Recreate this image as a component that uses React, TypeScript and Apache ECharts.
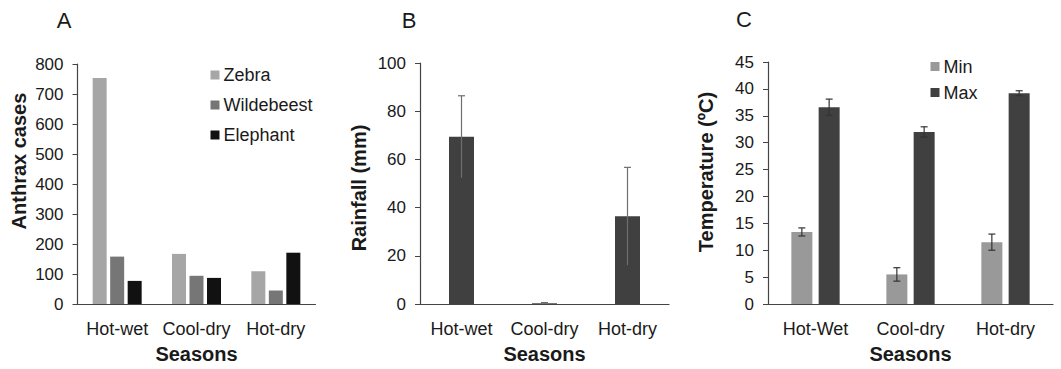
import React, { useEffect, useRef } from "react";
import * as echarts from "echarts";

// ---- Data ----
const seasonsA = ["Hot-wet", "Cool-dry", "Hot-dry"];
const zebra = [753, 167, 109];
const wildebeest = [158, 94, 45];
const elephant = [77, 87, 171];

const seasonsB = ["Hot-wet", "Cool-dry", "Hot-dry"];
const rainfall = [69.4, 0.3, 36.4];
const rainfallErr = [17, 0.3, 20.3];

const seasonsC = ["Hot-Wet", "Cool-dry", "Hot-dry"];
const tempMin = [13.4, 5.5, 11.5];
const tempMinErr = [0.75, 1.25, 1.5];
const tempMax = [36.6, 32.0, 39.2];
const tempMaxErr = [1.5, 0.95, 0.45];

const ticksA = { min: 0, max: 800, interval: 100 };
const ticksB = { min: 0, max: 100, interval: 20 };
const ticksC = { min: 0, max: 45, interval: 5 };

const FONT = "'Liberation Sans', Arial, sans-serif";
const AXIS_COLOR = "#444";
const TEXT_COLOR = "#1a1a1a";

function errSeries(
  name: string,
  axisIdx: number,
  values: number[],
  errs: number[],
  offset: number,
  capHalf: number,
  color: string,
  bottomCap: boolean
) {
  return {
    type: "custom",
    name,
    xAxisIndex: axisIdx,
    yAxisIndex: axisIdx,
    z: 10,
    silent: true,
    data: values.map((v, i) => [i, v - errs[i], v + errs[i]]),
    renderItem: (_params: any, api: any) => {
      const lo = api.coord([api.value(0), api.value(1)]);
      const hi = api.coord([api.value(0), api.value(2)]);
      const x = lo[0] + offset;
      const st = { stroke: color, lineWidth: 1.2 };
      const children: any[] = [
        { type: "line", shape: { x1: x, y1: lo[1], x2: x, y2: hi[1] }, style: st },
        { type: "line", shape: { x1: x - capHalf, y1: hi[1], x2: x + capHalf, y2: hi[1] }, style: st },
      ];
      if (bottomCap) {
        children.push({
          type: "line",
          shape: { x1: x - capHalf, y1: lo[1], x2: x + capHalf, y2: lo[1] },
          style: st,
        });
      }
      return { type: "group", children };
    },
  };
}

function catAxis(gridIndex: number, data: string[]) {
  return {
    type: "category",
    gridIndex,
    data,
    axisLine: { show: true, lineStyle: { color: AXIS_COLOR, width: 1.2 } },
    axisTick: { show: false },
    axisLabel: { color: TEXT_COLOR, fontSize: 18, fontFamily: FONT, margin: 16, interval: 0 },
    name: "Seasons",
    nameLocation: "middle",
    nameGap: 40,
    nameTextStyle: { color: TEXT_COLOR, fontSize: 20, fontWeight: "bold", fontFamily: FONT },
  };
}

function valAxis(gridIndex: number, t: { min: number; max: number; interval: number }) {
  return {
    type: "value",
    gridIndex,
    min: t.min,
    max: t.max,
    interval: t.interval,
    axisLine: { show: true, lineStyle: { color: AXIS_COLOR, width: 1.2 } },
    axisTick: { show: true, length: 5, lineStyle: { color: AXIS_COLOR } },
    axisLabel: { color: TEXT_COLOR, fontSize: 17, fontFamily: FONT, margin: 14 },
    splitLine: { show: false },
  };
}

function rotTitle(text: string, x: number, y: number) {
  return {
    type: "text",
    x,
    y,
    rotation: Math.PI / 2,
    style: {
      text,
      fill: TEXT_COLOR,
      font: `bold 20px ${FONT}`,
      textAlign: "center",
      textVerticalAlign: "middle",
    },
  };
}

function letter(text: string, x: number, y: number) {
  return {
    type: "text",
    x,
    y,
    style: {
      text,
      fill: TEXT_COLOR,
      font: `22px ${FONT}`,
      textAlign: "center",
      textVerticalAlign: "middle",
    },
  };
}

export default function App() {
  const ref = useRef<HTMLDivElement>(null);
  useEffect(() => {
    if (!ref.current) return;
    const chart = echarts.init(ref.current, undefined, { renderer: "svg" });
    const barWA = 14;
    const barWB = 25;
    const barWC = 21;
    const gapC = 0.3;
    const offC = (barWC + barWC * gapC) / 2;
    const option: any = {
      animation: false,
      backgroundColor: "#ffffff",
      textStyle: { fontFamily: FONT },
      grid: [
        { left: 77.5, top: 64, width: 238, height: 247 },
        { left: 420, top: 63, width: 249, height: 245.5 },
        { left: 768, top: 62, width: 285, height: 245 },
      ],
      xAxis: [catAxis(0, seasonsA), catAxis(1, seasonsB), catAxis(2, seasonsC)],
      yAxis: [valAxis(0, ticksA), valAxis(1, ticksB), valAxis(2, ticksC)],
      legend: [
        {
          data: ["Zebra", "Wildebeest", "Elephant"],
          orient: "vertical",
          left: 210.5,
          top: 66,
          itemWidth: 9,
          itemHeight: 9,
          itemGap: 12,
          icon: "rect",
          padding: 0,
          textStyle: { color: TEXT_COLOR, fontSize: 18, fontFamily: FONT, padding: [0, 0, 0, -1] },
        },
        {
          data: ["Min", "Max"],
          orient: "vertical",
          left: 930.5,
          top: 57.5,
          itemWidth: 9,
          itemHeight: 9,
          itemGap: 8,
          icon: "rect",
          padding: 0,
          textStyle: { color: TEXT_COLOR, fontSize: 18, fontFamily: FONT, padding: [0, 0, 0, -1] },
        },
      ],
      graphic: [
        letter("A", 64, 20),
        letter("B", 409, 20),
        letter("C", 744, 19),
        rotTitle("Anthrax cases", 19, 161),
        rotTitle("Rainfall (mm)", 359, 188),
        rotTitle("Temperature (ºC)", 706, 172),
      ],
      series: [
        {
          type: "bar", name: "Zebra", xAxisIndex: 0, yAxisIndex: 0, data: zebra,
          barWidth: barWA, barGap: "25%", itemStyle: { color: "#a6a6a6" },
        },
        {
          type: "bar", name: "Wildebeest", xAxisIndex: 0, yAxisIndex: 0, data: wildebeest,
          barWidth: barWA, barGap: "25%", itemStyle: { color: "#767676" },
        },
        {
          type: "bar", name: "Elephant", xAxisIndex: 0, yAxisIndex: 0, data: elephant,
          barWidth: barWA, barGap: "25%", itemStyle: { color: "#111111" },
        },
        {
          type: "bar", name: "Rainfall", xAxisIndex: 1, yAxisIndex: 1, data: rainfall,
          barWidth: barWB, itemStyle: { color: "#404040" },
        },
        errSeries("Rainfall error", 1, rainfall, rainfallErr, 0, 3.5, "#6e6e6e", false),
        {
          type: "bar", name: "Min", xAxisIndex: 2, yAxisIndex: 2, data: tempMin,
          barWidth: barWC, barGap: "30%", itemStyle: { color: "#999999" },
        },
        {
          type: "bar", name: "Max", xAxisIndex: 2, yAxisIndex: 2, data: tempMax,
          barWidth: barWC, barGap: "30%", itemStyle: { color: "#404040" },
        },
        errSeries("Min error", 2, tempMin, tempMinErr, -offC, 3.5, "#333333", true),
        errSeries("Max error", 2, tempMax, tempMaxErr, offC, 3.5, "#333333", true),
      ],
    };
    chart.setOption(option);
    return () => chart.dispose();
  }, []);
  return (
    <div
      ref={ref}
      style={{ position: "absolute", left: 0, top: 0, width: 1061, height: 369, background: "#fff" }}
    />
  );
}
